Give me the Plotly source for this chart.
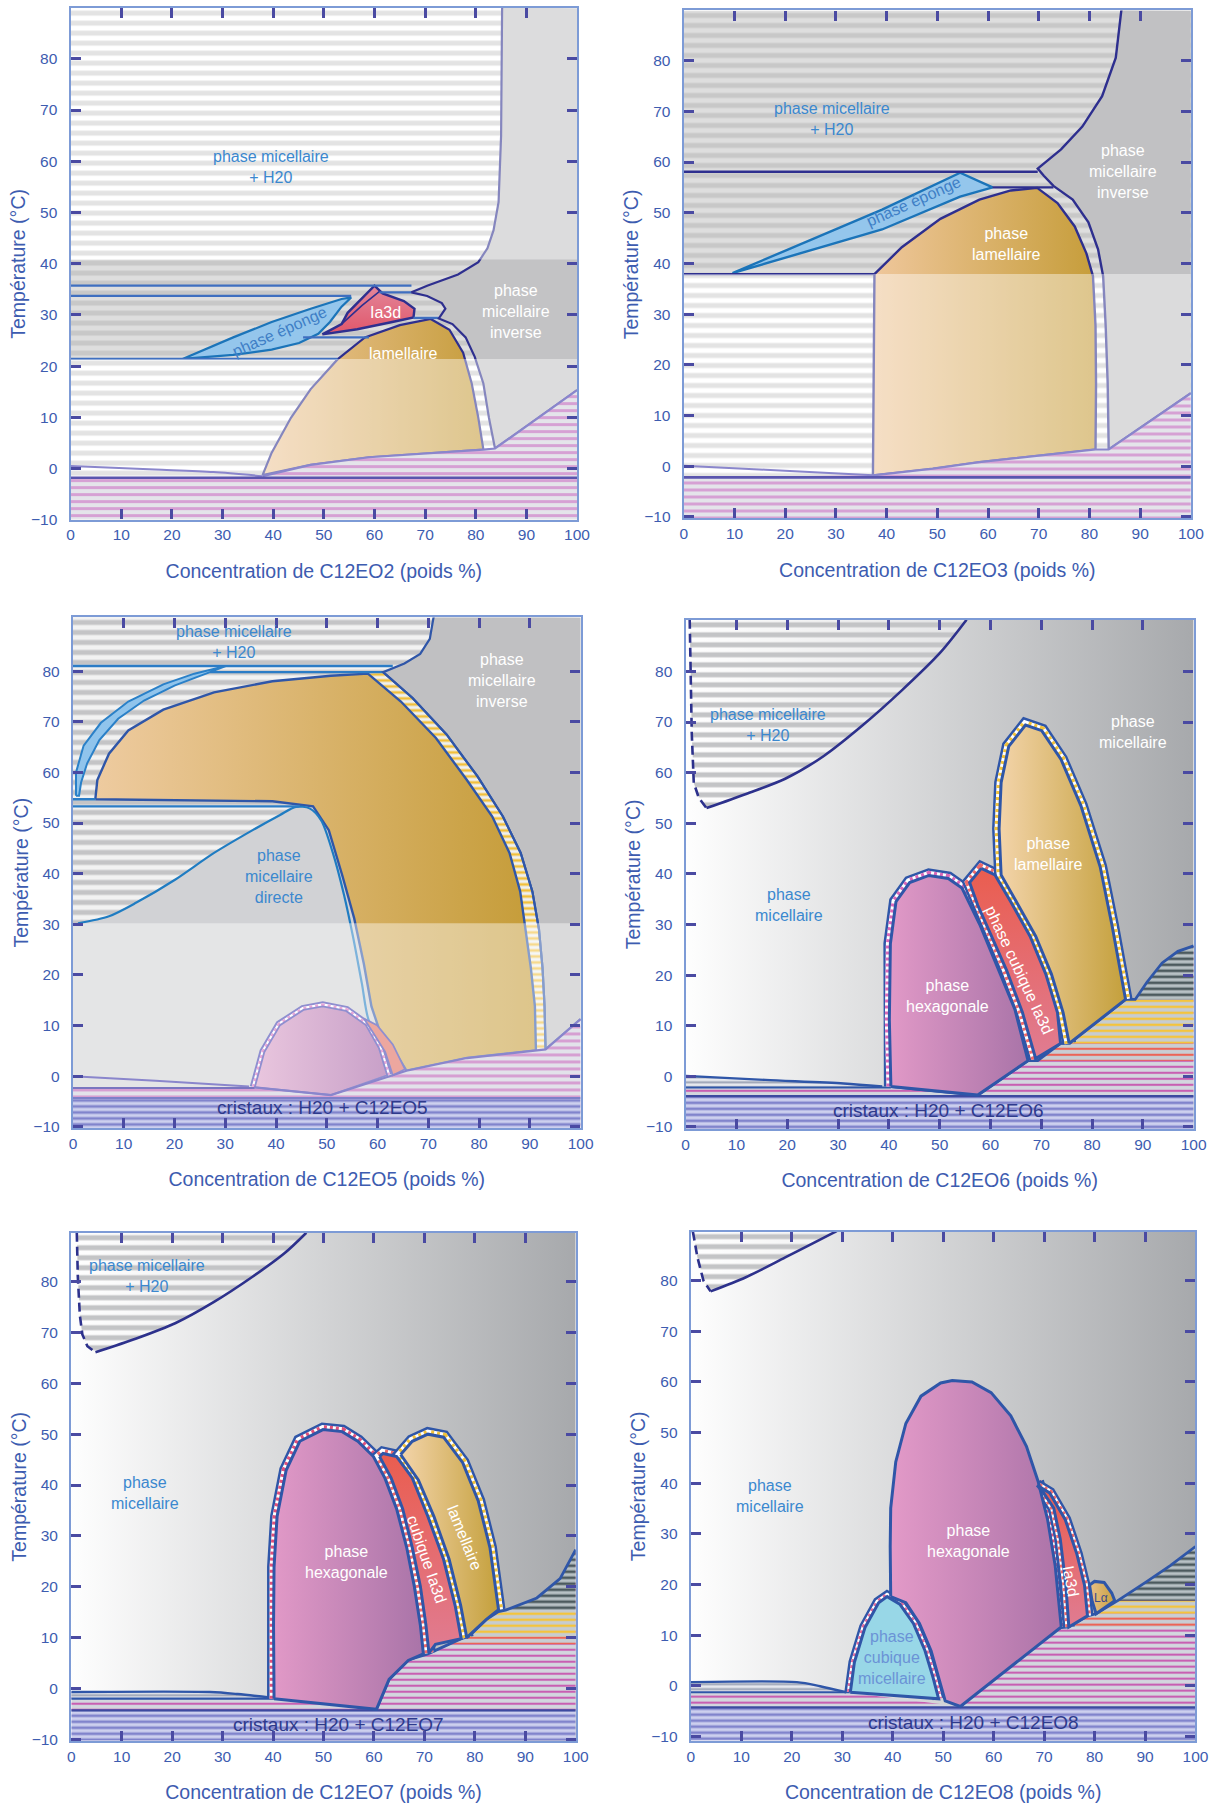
import plotly.graph_objects as go

# ======================= DATA =======================
X_TICKS = list(range(0, 101, 10))
Y_TICKS = list(range(-10, 81, 10))
SURFACTANTS = ["C12EO2", "C12EO3", "C12EO5", "C12EO6", "C12EO7", "C12EO8"]
Y_RANGES = [[-10.0, 89.9], [-10.3, 89.9], [-10.2, 90.6], [-10.4, 90.2], [-10.3, 89.6], [-10.9, 89.7]]

# ---------- C12EO2 ----------
P1_BAND = [21.4, 40.8]
P1_L2_X = [85.2, 85.0, 84.5, 83.5, 82.3, 80.5, 76.5, 70.4, 67.3, 70.4, 73.3, 74.0, 72.7, 75.4, 78.0, 79.8, 81.5, 82.6, 83.8, 100]
P1_L2_Y = [90, 65, 52, 46.5, 43, 40.3, 37.9, 35.7, 34.4, 33.7, 32.3, 31.2, 29.3, 28.2, 25.6, 21.8, 16.6, 9.9, 3.9, 15.3]
P1_LAM_X = [37.9, 39.7, 43.5, 47.4, 52.7, 58.1, 65.0, 71.1, 74.8, 77.5, 79.2, 80.5, 81.5, 70.4, 58.9, 47.4]
P1_LAM_Y = [-1.3, 3.1, 9.9, 15.5, 21.3, 25.6, 28.0, 29.2, 27.1, 22.6, 16.6, 9.9, 3.7, 2.9, 2.2, 0.7]
P1_SPG_X = [22.1, 32.1, 39.7, 45.1, 48.9, 51.2, 53.5, 55.4, 53.5, 47.4, 39.7, 32.1]
P1_SPG_Y = [21.4, 22.2, 23.2, 24.5, 26.3, 28.6, 31.6, 33.4, 33.1, 31.2, 28.6, 25.6]
P1_IA3D_X = [49.7, 53.5, 54.7, 56.6, 60.0, 61.6, 65.8, 67.9, 67.7, 63.5, 56.6]
P1_IA3D_Y = [26.2, 28.2, 30.4, 32.3, 35.7, 34.2, 32.7, 31.2, 29.5, 28.6, 27.2]
P1_IA3D_IN_X = [53.5, 57.5, 61.0]
P1_IA3D_IN_Y = [28.2, 31.8, 34.6]
P1_SEG_Y = [35.7, 33.7, 21.4, 25.6, 29.4, 34.4]
P1_SEG_X0 = [0, 0, 0, 45.9, 67.7, 61.0]
P1_SEG_X1 = [67.3, 55.4, 52.7, 58.9, 72.7, 67.3]
P1_SOL_X = [0, 16.7, 28.2, 37.9]
P1_SOL_Y = [0.5, -0.2, -0.7, -1.5]
P1_FLOOR = -1.8
P1_EUT_X = [37.9, 47.4, 58.9, 70.4, 81.5, 83.8, 100]
P1_EUT_Y = [-1.5, 0.7, 2.2, 2.9, 3.7, 3.9, 15.3]

# ---------- C12EO3 ----------
P2_BAND = [37.9, 89.9]
P2_L2_X = [86.3, 85.2, 82.5, 78.6, 74.4, 69.8, 71.0, 72.9, 76.7, 79.8, 81.7, 82.7, 83.2, 83.6, 83.8, 100]
P2_L2_Y = [90, 80.6, 73.0, 67.0, 62.5, 58.7, 57.3, 55.3, 52.6, 48.1, 42.8, 37.5, 27.7, 16.3, 3.3, 14.4]
P2_LAM_X = [37.6, 43.0, 50.6, 58.3, 64.5, 69.7, 73.7, 77.1, 79.4, 80.7, 81.2, 81.3, 81.2, 69.8, 58.3, 49.1, 37.3]
P2_LAM_Y = [37.9, 43.2, 48.8, 52.6, 54.4, 54.9, 51.9, 47.3, 42.0, 37.5, 27.7, 16.3, 3.3, 2.1, 0.8, -0.5, -1.8]
P2_SPG_X = [9.6, 39.1, 54.5, 60.9, 54.5, 39.1]
P2_SPG_Y = [38.1, 50.6, 57.9, 55.0, 53.2, 46.7]
P2_SEG_Y = [58.1, 55.0, 37.9]
P2_SEG_X0 = [0, 60.9, 0]
P2_SEG_X1 = [69.8, 72.9, 37.6]
P2_SOL_X = [0, 16.1, 37.3]
P2_SOL_Y = [0.1, -0.7, -1.8]
P2_FLOOR = -2.2
P2_EUT_X = [37.3, 49.1, 58.3, 69.8, 81.2, 83.8, 100]
P2_EUT_Y = [-1.8, -0.5, 0.8, 2.1, 3.3, 3.3, 14.4]

# ---------- C12EO5 ----------
P3_BAND = [30.2, 90.6]
P3_W_X = [0, 71.1, 70.3, 68.4, 65.3, 61.1, 58.1, 47.3, 43.9, 40.8, 35.4, 27.8, 20.1, 12.5, 7.1, 1.0, 0]
P3_W_Y = [91, 91, 86.4, 83.4, 81.5, 79.8, 79.5, 53.3, 53.2, 51.6, 48.6, 44.1, 38.8, 34.3, 31.6, 30.2, 30.2]
P3_L2_X = [71.1, 70.3, 68.4, 65.3, 61.1, 66.9, 73.6, 79.7, 84.7, 88.2, 90.5, 91.8, 92.5, 92.9, 93.1, 100]
P3_L2_Y = [91, 86.4, 83.4, 81.5, 79.8, 74.7, 67.5, 59.2, 51.3, 44.1, 36.5, 29.0, 21.4, 13.8, 5.3, 11.3]
P3_LAM_X = [4.4, 4.8, 7.1, 10.9, 17.8, 27.8, 39.3, 50.8, 58.1, 64.6, 71.5, 77.6, 82.6, 86.0, 88.1, 89.2, 90.2, 91.0, 91.2,
            77.6, 65.7, 63.0, 60.3, 58.8, 57.3, 55.4, 53.1, 50.4, 47.3, 39.3]
P3_LAM_Y = [54.7, 58.5, 63.7, 68.3, 72.4, 75.8, 78.0, 79.1, 79.5, 74.0, 66.8, 58.5, 51.3, 44.1, 36.5, 29.0, 21.4, 13.8, 5.1,
            3.6, 1.1, 5.5, 9.3, 13.8, 22.2, 31.2, 39.5, 48.6, 53.3, 54.3]
P3_STRIP_X = [61.1, 66.9, 73.6, 79.7, 84.7, 88.2, 90.5, 91.8, 92.5, 92.9, 93.1,
              91.2, 91.0, 90.2, 89.2, 88.1, 86.0, 82.6, 77.6, 71.5, 64.6, 58.1]
P3_STRIP_Y = [79.8, 74.7, 67.5, 59.2, 51.3, 44.1, 36.5, 29.0, 21.4, 13.8, 5.3,
              5.1, 13.8, 21.4, 29.0, 36.5, 44.1, 51.3, 58.5, 66.8, 74.0, 79.5]
P3_SPG_X = [0.6, 0.6, 2.1, 5.5, 10.9, 17.8, 23.9, 30.1, 27.0, 20.1, 14.0, 8.9, 5.2, 2.8, 1.6, 1.2]
P3_SPG_Y = [55.4, 60.0, 65.3, 69.8, 74.0, 77.4, 79.5, 81.0, 79.8, 77.2, 74.2, 70.6, 66.4, 61.8, 58.0, 55.4]
P3_L1_X = [1.0, 7.1, 12.5, 20.1, 27.8, 35.4, 40.8, 43.9, 46.6, 48.9, 51.2, 53.4, 55.2, 56.9, 58.4, 59.6]
P3_L1_Y = [30.2, 31.6, 34.3, 38.8, 44.1, 48.6, 51.6, 53.2, 52.9, 50.5, 44.1, 35.8, 27.4, 18.4, 10.8, 10.1]
P3_SEG_Y = [81.0, 79.8, 54.7, 53.3]
P3_SEG_X0 = [0, 27.0, 0, 0]
P3_SEG_X1 = [63.0, 61.1, 4.4, 44.6]
P3_HEX_X = [35.8, 37.7, 40.8, 45.4, 49.2, 53.8, 57.7, 60.3, 61.9, 50.8]
P3_HEX_Y = [-2.2, 4.8, 10.1, 13.1, 13.8, 12.9, 10.1, 5.5, 0.2, -3.7]
P3_IA3D_X = [57.3, 59.9, 63.0, 65.4, 63.0, 61.5, 59.2]
P3_IA3D_Y = [11.4, 10.1, 6.3, 1.4, 0.2, 4.8, 8.5]
P3_SOL_X = [0, 16.3, 34.7]
P3_SOL_Y = [0, -0.9, -2.0]
P3_FLOOR = -2.3
P3_ICE = -4.3
P3_EUT_X = [35.8, 50.8, 63.0, 65.7, 77.6, 91.2, 93.1, 100]
P3_EUT_Y = [-2.2, -3.7, 0.2, 1.1, 3.6, 5.1, 5.3, 11.3]

# ---------- C12EO6 ----------
P4_WD_X = [0.8, 1.0, 1.2, 1.6, 2.6, 4.1]
P4_WD_Y = [90.2, 79.2, 67.9, 58.0, 55.0, 53.0]
P4_WC_X = [4.1, 11.9, 19.6, 27.2, 34.9, 42.5, 50.2, 55.3]
P4_WC_Y = [53.0, 55.8, 58.8, 63.3, 69.4, 76.2, 83.8, 90.2]
P4_HEX_X = [40.4, 40.1, 40.3, 41.4, 44.1, 47.9, 51.7, 54.4, 57.9, 61.7, 64.8, 67.4, 57.5]
P4_HEX_Y = [-2.0, 11.1, 26.2, 34.5, 38.3, 39.7, 39.1, 37.2, 30.0, 20.9, 13.3, 3.1, -3.7]
P4_IA3D_X = [58.2, 60.9, 64.0, 67.8, 70.9, 73.2, 73.8, 68.9, 66.3, 63.2, 60.2, 57.5, 55.9]
P4_IA3D_Y = [41.1, 39.8, 34.5, 27.7, 20.2, 12.6, 6.5, 3.5, 12.6, 20.9, 27.7, 33.8, 38.3]
P4_LAM_X = [75.5, 74.3, 72.0, 68.9, 65.1, 62.1, 61.7, 62.1, 63.6, 66.9, 70.1, 73.9, 77.8, 81.6, 83.9, 86.6]
P4_LAM_Y = [6.5, 12.6, 20.2, 27.7, 34.5, 39.8, 48.9, 58.0, 65.2, 69.4, 68.3, 62.6, 53.5, 41.4, 30.0, 15.2]
P4_SOL_X = [0, 15.7, 31.1, 38.7]
P4_SOL_Y = [0.1, -0.7, -1.4, -2.0]
P4_FLOOR = -2.2
P4_ICE = -3.9
P4_EUT_X = [40.4, 57.5, 67.4, 69.3, 73.8, 75.5, 86.6, 88.5, 90.8, 93.8, 96.9, 100]
P4_EUT_Y = [-2.0, -3.7, 3.1, 3.1, 6.5, 6.5, 15.2, 15.2, 18.6, 22.4, 24.7, 25.8]
P4_DARK_X = [88.5, 90.8, 93.8, 96.9, 100, 100]
P4_DARK_Y = [15.2, 18.6, 22.4, 24.7, 25.8, 15.2]
P4_YEL_X = [75.5, 86.6, 100, 100]
P4_YEL_Y = [6.5, 15.2, 15.2, 6.5]
P4_RED_X = [69.3, 73.8, 100, 100]
P4_RED_Y = [3.1, 6.5, 6.5, 3.1]

# ---------- C12EO7 ----------
P5_WD_X = [1.1, 1.3, 1.7, 2.2, 3.2, 4.8]
P5_WD_Y = [89.6, 81.0, 73.4, 69.6, 67.3, 66.1]
P5_WC_X = [4.8, 12.9, 20.6, 28.3, 36.0, 42.2, 46.6]
P5_WC_Y = [66.1, 68.8, 71.8, 76.0, 81.0, 85.5, 89.6]
P5_HEX_X = [40.2, 40.1, 40.2, 40.8, 42.6, 45.3, 49.9, 53.7, 56.8, 59.9, 62.2, 64.5, 66.5, 68.0, 69.2, 69.8, 66.8, 63.0, 60.5]
P5_HEX_Y = [-2.0, 12.5, 23.9, 33.8, 42.9, 48.6, 50.9, 50.5, 48.6, 45.6, 41.3, 35.3, 27.7, 20.1, 12.5, 6.8, 5.5, 1.8, -4.1]
P5_IA3D_X = [61.1, 61.8, 64.5, 67.6, 70.7, 73.8, 76.1, 77.3, 72.2, 70.9, 70.3, 69.2, 67.6, 65.7, 63.4]
P5_IA3D_Y = [45.6, 46.2, 45.6, 41.4, 33.8, 25.4, 16.3, 9.8, 8.7, 7.0, 12.5, 20.1, 27.7, 35.3, 41.4]
P5_LAM_X = [65.3, 67.6, 70.7, 73.8, 77.6, 80.7, 83.0, 84.7, 82.3, 78.8, 78.4, 77.2, 74.9, 71.9, 68.8]
P5_LAM_Y = [46.0, 48.6, 50.0, 49.4, 44.4, 36.8, 27.7, 15.5, 13.6, 10.2, 10.0, 16.3, 25.4, 33.8, 41.0]
P5_SOL_X = [0, 27.5, 33.0, 39.6]
P5_SOL_Y = [-0.7, -0.7, -1.1, -1.8]
P5_FLOOR = -2.0
P5_ICE = -4.3
P5_EUT_X = [60.5, 63.0, 66.8, 70.7, 77.3, 78.8, 82.3, 84.7, 86.1, 92.3, 96.9, 100]
P5_EUT_Y = [-4.1, 1.8, 5.6, 6.8, 9.8, 10.2, 13.6, 15.1, 15.4, 17.8, 21.6, 27.3]
P5_DARK_X = [86.1, 92.3, 96.9, 100, 100]
P5_DARK_Y = [15.4, 17.8, 21.6, 27.3, 15.4]
P5_YEL_X = [78.8, 82.3, 84.7, 86.1, 100, 100]
P5_YEL_Y = [10.2, 13.6, 15.1, 15.4, 15.4, 10.2]
P5_RED_X = [74.9, 77.3, 78.8, 100, 100]
P5_RED_Y = [8.7, 9.8, 10.2, 10.2, 8.7]

# ---------- C12EO8 ----------
P6_WD_X = [0.4, 1.3, 2.5, 3.9]
P6_WD_Y = [89.7, 84.6, 80.0, 77.9]
P6_WC_X = [3.9, 10.9, 18.7, 28.3, 29.0]
P6_WC_Y = [77.9, 80.7, 84.6, 89.5, 89.9]
P6_CUB_X = [31.6, 32.4, 34.5, 37.2, 38.9, 41.4, 44.1, 46.4, 48.0, 49.1]
P6_CUB_Y = [-1.3, 4.6, 11.5, 16.4, 17.6, 16.1, 12.3, 6.9, 1.6, -2.6]
P6_HEX_X = [39.6, 39.5, 39.6, 40.6, 42.6, 45.6, 49.5, 51.8, 55.7, 59.5, 63.4, 66.5, 68.8, 70.7, 72.2, 73.4,
            53.4, 50.4, 49.1, 47.6, 45.3, 42.6]
P6_HEX_Y = [17.6, 27.5, 35.1, 44.2, 51.8, 57.2, 59.8, 60.3, 60.0, 57.9, 53.3, 47.3, 40.4, 32.8, 23.7, 11.6,
            -4.1, -3.0, 1.6, 6.9, 12.3, 16.4]
P6_IA3D_X = [68.6, 71.1, 74.2, 76.5, 78.0, 78.6, 74.9, 74.3, 73.2, 71.9, 69.9]
P6_IA3D_Y = [39.6, 38.1, 32.8, 26.0, 19.9, 13.8, 11.6, 19.9, 29.0, 35.1, 38.1]
P6_LA_X = [79.0, 80.0, 81.9, 83.4, 84.0, 80.3, 79.5]
P6_LA_Y = [19.9, 20.6, 20.4, 18.3, 16.8, 14.2, 16.8]
P6_SOL_X = [0, 21.0, 25.6, 30.8]
P6_SOL_Y = [0.7, 0.7, -0.1, -1.3]
P6_FLOOR = -1.3
P6_ICE = -4.3
P6_EUT_X = [53.4, 61.1, 68.8, 73.4, 74.9, 78.6, 80.3, 84.0, 84.6, 90.4, 95.0, 100]
P6_EUT_Y = [-4.1, 2.4, 9.2, 11.5, 11.6, 13.8, 14.2, 16.4, 16.8, 20.6, 23.7, 27.5]
P6_DARK_X = [84.6, 90.4, 95.0, 100, 100]
P6_DARK_Y = [16.8, 20.6, 23.7, 27.5, 16.8]
P6_YEL_X = [80.3, 84.0, 84.6, 100, 100]
P6_YEL_Y = [14.2, 16.4, 16.8, 16.8, 14.2]
P6_RED_X = [74.9, 78.6, 80.3, 100, 100]
P6_RED_Y = [11.6, 13.8, 14.2, 14.2, 11.6]

# ======================= STYLE / DRAWING =======================
FONT = "Liberation Sans, Arial, Helvetica, sans-serif"
NAVY = "#2e2f8f"
ROYAL = "#2f56a8"
LBLUE = "#3b88cf"
AXBLUE = "#3d5cb0"
CRY = "#2e3a8c"
WHITE_VEIL = "rgba(255,255,255,0.42)"

DOMAINS = [
    ([0.0579, 0.4730], [0.7124, 0.9955]),
    ([0.5605, 0.9761], [0.7131, 0.9942]),
    ([0.0598, 0.4759], [0.3758, 0.6583]),
    ([0.5620, 0.9784], [0.3752, 0.6570]),
    ([0.0584, 0.4719], [0.0366, 0.3178]),
    ([0.5663, 0.9799], [0.0366, 0.3184]),
]

fig = go.Figure()


def axn(k):
    return ("x" if k == 1 else "x%d" % k), ("y" if k == 1 else "y%d" % k)


def area(k, xs, ys, color=None, grad=None, gdir="horizontal", pat=None, lc=None, lw=0.0):
    xa, ya = axn(k)
    xs = list(xs)
    ys = list(ys)
    kw = dict(x=xs + xs[:1], y=ys + ys[:1], xaxis=xa, yaxis=ya, mode="lines", fill="toself",
              hoverinfo="skip", showlegend=False,
              line=dict(color=lc if lc else "rgba(0,0,0,0)", width=lw))
    if grad is not None:
        v = xs if gdir == "horizontal" else ys
        kw["fillgradient"] = dict(type=gdir, colorscale=[[0, grad[0]], [1, grad[1]]],
                                  start=min(v), stop=max(v))
    elif pat is not None:
        fg, bg, size, sol = pat
        kw["fillcolor"] = bg
        kw["fillpattern"] = dict(shape="-", fgcolor=fg, bgcolor=bg, size=size, solidity=sol,
                                 fillmode="replace")
    else:
        kw["fillcolor"] = color
    fig.add_trace(go.Scatter(**kw))


def path(k, xs, ys, color, width, dash=None, smooth=False):
    xa, ya = axn(k)
    ln = dict(color=color, width=width, dash=dash)
    if smooth:
        ln["shape"] = "spline"
        ln["smoothing"] = 0.8
    fig.add_trace(go.Scatter(x=list(xs), y=list(ys), xaxis=xa, yaxis=ya, mode="lines",
                             line=ln, hoverinfo="skip", showlegend=False))


def segs(k, x0s, x1s, ys, color, width):
    for a, b, y in zip(x0s, x1s, ys):
        path(k, [a, b], [y, y], color, width)


def strip(k, xs, ys, dcol, outer=ROYAL, w_out=14, w_in=9):
    path(k, xs, ys, outer, w_out)
    path(k, xs, ys, "white", w_in)
    path(k, xs, ys, dcol, w_in, dash="3px,3px")


def rect(k, y0, y1, **kw):
    area(k, [0, 100, 100, 0], [y0, y0, y1, y1], **kw)


STRIPE_OUT = ("#cfcfcf", "#ffffff", 10, 0.5)
STRIPE_IN = ("#c8c8c8", "#dedede", 10, 0.5)
PINK_CRY = ("#d6a0d4", "#e4e4ea", 7, 0.42)
LAV_CRY = ("#8184cc", "#cdd0ee", 6, 0.45)

# ---------------- Panel 1: C12EO2 ----------------
k = 1
y0, y1 = Y_RANGES[0]
rect(k, y0, y1, pat=STRIPE_OUT)
rect(k, P1_BAND[0], P1_BAND[1], pat=STRIPE_IN)
area(k, P1_L2_X + [100], P1_L2_Y + [y1], color="#c3c3c5")
area(k, P1_SPG_X, P1_SPG_Y, color="#94c6ec", lc="#1b74b9", lw=2.2)
area(k, P1_IA3D_X, P1_IA3D_Y, grad=("#e0566a", "#e3879a"), gdir="vertical", lc=NAVY, lw=2.4)
path(k, P1_IA3D_IN_X, P1_IA3D_IN_Y, NAVY, 1.6)
area(k, P1_LAM_X, P1_LAM_Y, grad=("#eec79c", "#c69d3c"), lc=NAVY, lw=2.2)
segs(k, P1_SEG_X0, P1_SEG_X1, P1_SEG_Y, "#3f6fc0", 2.4)
path(k, P1_L2_X, P1_L2_Y, NAVY, 2.2)
rect(k, y0, P1_BAND[0], color=WHITE_VEIL)
rect(k, P1_BAND[1], y1, color=WHITE_VEIL)
area(k, [0] + P1_EUT_X + [100, 0], [P1_FLOOR] + P1_EUT_Y + [y0, y0], pat=PINK_CRY)
path(k, P1_EUT_X, P1_EUT_Y, "#8a86cc", 2.2)
path(k, P1_SOL_X, P1_SOL_Y, "#8a86cc", 2, smooth=True)
path(k, [0, 100], [P1_FLOOR, P1_FLOOR], "#5a55ae", 2.6)

# ---------------- Panel 2: C12EO3 ----------------
k = 2
y0, y1 = Y_RANGES[1]
rect(k, y0, y1, pat=STRIPE_OUT)
rect(k, P2_BAND[0], y1, pat=STRIPE_IN)
area(k, P2_L2_X + [100], P2_L2_Y + [y1], color="#c1c1c3")
area(k, P2_SPG_X, P2_SPG_Y, color="#94c6ec", lc="#1b74b9", lw=2.4)
area(k, P2_LAM_X, P2_LAM_Y, grad=("#efc79c", "#c69d3a"), lc=NAVY, lw=2.4)
segs(k, P2_SEG_X0, P2_SEG_X1, P2_SEG_Y, NAVY, 2.4)
path(k, P2_L2_X, P2_L2_Y, NAVY, 2.4)
rect(k, y0, P2_BAND[0], color=WHITE_VEIL)
area(k, [0] + P2_EUT_X + [100, 0], [P2_FLOOR] + P2_EUT_Y + [y0, y0], pat=PINK_CRY)
path(k, P2_EUT_X, P2_EUT_Y, "#8a86cc", 2.2)
path(k, P2_SOL_X, P2_SOL_Y, "#8a86cc", 2, smooth=True)
path(k, [0, 100], [P2_FLOOR, P2_FLOOR], "#5a55ae", 2.6)

# ---------------- Panel 3: C12EO5 ----------------
k = 3
y0, y1 = Y_RANGES[2]
rect(k, y0, y1, color="#d1d2d5")
area(k, P3_W_X, P3_W_Y, pat=("#c4c4c6", "#f2f2f2", 10, 0.5))
area(k, P3_L2_X + [100], P3_L2_Y + [y1], color="#c0c0c2")
area(k, P3_STRIP_X, P3_STRIP_Y, pat=("#f2c03c", "#eef0f2", 6, 0.45))
path(k, P3_STRIP_X[:11], P3_STRIP_Y[:11], ROYAL, 2.2)
area(k, P3_LAM_X, P3_LAM_Y, grad=("#eecba0", "#c59c38"), lc=ROYAL, lw=2.4)
area(k, P3_SPG_X, P3_SPG_Y, color="#90c4ec", lc="#2a80c8", lw=2)
path(k, P3_L1_X, P3_L1_Y, "#1f7cc2", 2.2, smooth=True)
segs(k, P3_SEG_X0, P3_SEG_X1, P3_SEG_Y, "#2b7cc6", 2.4)
path(k, P3_L2_X, P3_L2_Y, ROYAL, 2.2)
rect(k, y0, P3_BAND[0], color=WHITE_VEIL)
area(k, [0] + P3_EUT_X + [100, 0], [P3_FLOOR] + P3_EUT_Y + [y0, y0], pat=("#d69ed2", "#e2e2ea", 7, 0.42))
rect(k, y0, P3_ICE, pat=LAV_CRY)
path(k, [0, 100], [P3_ICE, P3_ICE], "#7d80c8", 2)
strip(k, P3_HEX_X[:9], P3_HEX_Y[:9], "#e8a8d8", outer="#8f8fd0", w_out=10, w_in=6)
area(k, P3_HEX_X, P3_HEX_Y, grad=("#e9c6de", "#c8a0c8"), lc="#8f8fd0", lw=1.8)
area(k, P3_IA3D_X, P3_IA3D_Y, color="#eca79f", lc="#8f8fd0", lw=1.8)
path(k, P3_EUT_X, P3_EUT_Y, "#8a86cc", 2.2)
path(k, P3_SOL_X, P3_SOL_Y, "#8a86cc", 2, smooth=True)
path(k, [0, P3_EUT_X[0]], [P3_FLOOR, P3_FLOOR], "#7a76c0", 2)

# ---------------- Panels 4-6 (gradient micellar background) ----------------
GRAD_BG = ("#fefefe", "#a7a9ac")
TL_STRIPES = ("#c3c4c6", "rgba(255,255,255,0.45)", 10, 0.5)
PINK_L = ("#c85fb2", "#d3d7de", 6, 0.35)
RED_L = ("#ec6457", "#c9ced4", 6, 0.35)
YEL_L = ("#f4c43c", "#c6ccd2", 6, 0.4)
DARK_L = ("#4c5a5e", "#b8c1c5", 6, 0.45)
GRAY_L = ("#9aa2b4", "#e6e8ee", 5, 0.4)


def micellar_panel(k, yr, wd_x, wd_y, wc_x, wc_y, sol_x, sol_y, floor, ice, eut_x, eut_y,
                   dark, yel, red):
    ya, yb = yr
    rect(k, ya, yb, grad=GRAD_BG)
    area(k, wd_x + wc_x[1:] + [wc_x[-1], wd_x[0]], wd_y + wc_y[1:] + [yb + 1, yb + 1], pat=TL_STRIPES)
    path(k, wd_x, wd_y, "#2d318c", 2.6, dash="9px,5px")
    path(k, wc_x, wc_y, "#2d318c", 2.6, smooth=True)
    area(k, sol_x + eut_x + [100, 0], sol_y + eut_y + [ice, ice], pat=PINK_L)
    area(k, sol_x + [sol_x[-1], 0], sol_y + [floor, floor], pat=GRAY_L)
    area(k, red[0], red[1], pat=RED_L)
    area(k, yel[0], yel[1], pat=YEL_L)
    area(k, dark[0], dark[1], pat=DARK_L)
    rect(k, ya, ice, pat=LAV_CRY)
    path(k, [0, 100], [ice, ice], "#3d4aa0", 2.2)
    path(k, [0, eut_x[0]], [floor, floor], ROYAL, 2.2)
    path(k, sol_x, sol_y, ROYAL, 2.4, smooth=True)
    path(k, eut_x, eut_y, ROYAL, 2.8)


# ---- Panel 4: C12EO6
k = 4
micellar_panel(k, Y_RANGES[3], P4_WD_X, P4_WD_Y, P4_WC_X, P4_WC_Y, P4_SOL_X, P4_SOL_Y, P4_FLOOR, P4_ICE,
               P4_EUT_X, P4_EUT_Y, (P4_DARK_X, P4_DARK_Y), (P4_YEL_X, P4_YEL_Y), (P4_RED_X, P4_RED_Y))
strip(k, P4_HEX_X[:12], P4_HEX_Y[:12], "#d968b8")
strip(k, P4_IA3D_X[7:] + P4_IA3D_X[:7], P4_IA3D_Y[7:] + P4_IA3D_Y[:7], "#ee6a6a")
strip(k, P4_LAM_X, P4_LAM_Y, "#f2c23a")
area(k, P4_HEX_X, P4_HEX_Y, grad=("#e199c7", "#a974a8"), lc=ROYAL, lw=3)
area(k, P4_IA3D_X, P4_IA3D_Y, grad=("#e07c92", "#ea5d4f"), gdir="vertical", lc=ROYAL, lw=3)
area(k, P4_LAM_X, P4_LAM_Y, grad=("#f3d4aa", "#c4a03c"), lc=ROYAL, lw=3)

# ---- Panel 5: C12EO7
k = 5
micellar_panel(k, Y_RANGES[4], P5_WD_X, P5_WD_Y, P5_WC_X, P5_WC_Y, P5_SOL_X, P5_SOL_Y, P5_FLOOR, P5_ICE,
               P5_EUT_X, P5_EUT_Y, (P5_DARK_X, P5_DARK_Y), (P5_YEL_X, P5_YEL_Y), (P5_RED_X, P5_RED_Y))
strip(k, P5_HEX_X[:16], P5_HEX_Y[:16], "#e0507a")
strip(k, P5_IA3D_X[9:] + P5_IA3D_X[:8], P5_IA3D_Y[9:] + P5_IA3D_Y[:8], "#ee6a6a")
strip(k, P5_LAM_X[10:] + P5_LAM_X[:8], P5_LAM_Y[10:] + P5_LAM_Y[:8], "#f2c23a")
area(k, P5_HEX_X, P5_HEX_Y, grad=("#e199c7", "#a974a8"), lc=ROYAL, lw=3)
area(k, P5_IA3D_X, P5_IA3D_Y, grad=("#e07c92", "#ea5d4f"), gdir="vertical", lc=ROYAL, lw=3)
area(k, P5_LAM_X, P5_LAM_Y, grad=("#f3d4aa", "#c4a03c"), lc=ROYAL, lw=3)

# ---- Panel 6: C12EO8
k = 6
micellar_panel(k, Y_RANGES[5], P6_WD_X, P6_WD_Y, P6_WC_X, P6_WC_Y, P6_SOL_X, P6_SOL_Y, P6_FLOOR, P6_ICE,
               P6_EUT_X, P6_EUT_Y, (P6_DARK_X, P6_DARK_Y), (P6_YEL_X, P6_YEL_Y), (P6_RED_X, P6_RED_Y))
strip(k, P6_CUB_X, P6_CUB_Y, "#e06a9a", w_out=12, w_in=7)
strip(k, P6_HEX_X[12:16], P6_HEX_Y[12:16], "#e0507a", w_out=12, w_in=7)
strip(k, P6_IA3D_X[6:] + P6_IA3D_X[:6], P6_IA3D_Y[6:] + P6_IA3D_Y[:6], "#ee6a6a", w_out=12, w_in=7)
area(k, P6_CUB_X, P6_CUB_Y, color="#98d7e7", lc=ROYAL, lw=3)
area(k, P6_HEX_X, P6_HEX_Y, grad=("#e39ac8", "#ab73a8"), lc=ROYAL, lw=3)
area(k, P6_IA3D_X, P6_IA3D_Y, grad=("#e07c92", "#ea5d4f"), gdir="vertical", lc=ROYAL, lw=3)
area(k, P6_LA_X, P6_LA_Y, grad=("#e8c088", "#c8a040"), lc=ROYAL, lw=3)

# ======================= LABELS =======================
W = "white"
LABELS = [
    (1, "phase micellaire<br>+ H20", 39.5, 58.9, LBLUE, 0, 16),
    (1, "Ia3d", 62.2, 30.4, W, 0, 16),
    (1, "phase éponge", 41.3, 26.7, "#3f7fc6", -24, 16),
    (1, "lamellaire", 65.8, 22.4, W, 0, 16),
    (1, "phase<br>micellaire<br>inverse", 88.0, 30.7, W, 0, 16),
    (2, "phase micellaire<br>+ H20", 29.2, 68.5, LBLUE, 0, 16),
    (2, "phase éponge", 45.3, 52.2, "#3f7fc6", -24, 16),
    (2, "phase<br>lamellaire", 63.7, 43.8, W, 0, 16),
    (2, "phase<br>micellaire<br>inverse", 86.7, 58.1, W, 0, 16),
    (3, "phase micellaire<br>+ H20", 31.8, 85.8, LBLUE, 0, 16),
    (3, "phase<br>micellaire<br>inverse", 84.5, 78.1, W, 0, 16),
    (3, "phase<br>micellaire<br>directe", 40.6, 39.5, LBLUE, 0, 16),
    (3, "cristaux : H20 + C12EO5", 49.2, -6.2, CRY, 0, 19),
    (4, "phase micellaire<br>+ H20", 16.3, 69.5, LBLUE, 0, 16),
    (4, "phase<br>micellaire", 20.3, 33.8, LBLUE, 0, 16),
    (4, "phase<br>micellaire", 88.0, 68.1, W, 0, 16),
    (4, "phase<br>lamellaire", 71.4, 44.0, W, 0, 16),
    (4, "phase<br>hexagonale", 51.6, 15.8, W, 0, 16),
    (4, "phase cubique Ia3d", 65.7, 20.9, W, 65, 16),
    (4, "cristaux : H20 + C12EO6", 49.7, -6.7, CRY, 0, 19),
    (5, "phase micellaire<br>+ H20", 15.0, 81.1, LBLUE, 0, 16),
    (5, "phase<br>micellaire", 14.6, 38.4, LBLUE, 0, 16),
    (5, "phase<br>hexagonale", 54.5, 24.8, W, 0, 16),
    (5, "cubique Ia3d", 70.5, 25.4, W, 71, 16),
    (5, "lamellaire", 77.9, 29.6, W, 68, 16),
    (5, "cristaux : H20 + C12EO7", 53.0, -7.1, CRY, 0, 19),
    (6, "phase<br>micellaire", 15.6, 37.4, LBLUE, 0, 16),
    (6, "phase<br>hexagonale", 55.1, 28.6, W, 0, 16),
    (6, "Ia3d", 75.3, 20.6, W, 80, 16),
    (6, "phase<br>cubique<br>micellaire", 39.9, 5.6, "#6b93d6", 0, 16),
    (6, "Lα", 81.3, 17.3, "#3a4a8a", 0, 12),
    (6, "cristaux : H20 + C12EO8", 56.0, -7.2, CRY, 0, 19),
]

annotations = []
for (k, txt, x, y, col, ang, size) in LABELS:
    xa, ya = axn(k)
    annotations.append(dict(x=x, y=y, xref=xa, yref=ya, text=txt, showarrow=False, textangle=ang,
                            font=dict(family=FONT, size=size, color=col)))

layout = dict(width=1220, height=1807, margin=dict(l=0, r=0, t=0, b=0),
              paper_bgcolor="white", plot_bgcolor="white", showlegend=False,
              annotations=annotations, font=dict(family=FONT))

for i in range(6):
    k = i + 1
    xd, yd = DOMAINS[i]
    xa, ya = axn(k)
    xname = "xaxis" if k == 1 else "xaxis%d" % k
    yname = "yaxis" if k == 1 else "yaxis%d" % k
    common = dict(ticks="inside", ticklen=10, tickwidth=2.8, tickcolor="#4a4aa2",
                  showline=True, linecolor="#7d9bd6", linewidth=2.4, mirror="allticks",
                  showgrid=False, zeroline=False, automargin=False,
                  tickfont=dict(family=FONT, size=15.5, color=AXBLUE))
    layout[xname] = dict(common, domain=xd, range=[0, 100], anchor=ya, tickvals=X_TICKS,
                         ticklabelstandoff=0,
                         title=dict(text="Concentration de %s (poids %%)" % SURFACTANTS[i],
                                    font=dict(family=FONT, size=19.5, color=AXBLUE), standoff=22))
    layout[yname] = dict(common, domain=yd, range=Y_RANGES[i], anchor=xa, tickvals=Y_TICKS,
                         ticklabelstandoff=8,
                         title=dict(text="Température (°C)",
                                    font=dict(family=FONT, size=19.5, color=AXBLUE), standoff=0))

fig.update_layout(**layout)
fig.write_html("out.html", config={"displayModeBar": False},
               post_script="document.body.style.margin='0';")
